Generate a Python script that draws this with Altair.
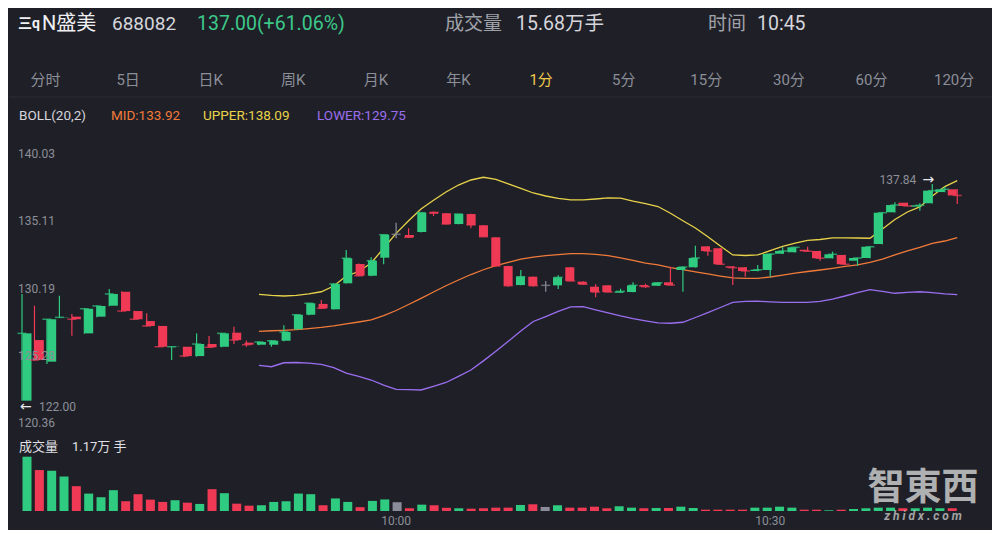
import altair as alt
import pandas as pd
import numpy as np

# ---------------- data ----------------
opens = [122.00, 126.43, 124.85, 128.07, 128.14, 126.92, 128.14, 128.94, 129.96, 128.55,
         127.82, 127.46, 125.92, 125.94, 125.26, 126.14, 125.94, 126.97, 126.24, 126.09,
         126.09, 126.38, 127.22, 128.28, 129.07, 128.68, 130.58, 131.99, 131.13, 132.45,
         134.16, 134.11, 134.33, 135.81, 135.70, 134.91, 135.64, 134.82, 133.94, 131.84,
         130.45, 131.06, 130.43, 130.43, 131.75, 130.70, 130.33, 130.43, 129.89, 129.94,
         130.45, 130.40, 130.65, 131.55, 131.75, 133.28, 133.14, 131.82, 131.75, 131.48,
         131.55, 132.74, 132.85, 133.03, 132.94, 132.41, 132.65, 132.23, 132.43, 133.45,
         135.77, 136.47, 136.18, 136.43, 137.25, 137.45]
highs = [129.80, 128.94, 127.95, 129.67, 128.33, 128.75, 128.95, 130.16, 130.00, 128.58,
         128.39, 127.48, 125.96, 125.94, 126.92, 126.73, 126.95, 127.41, 126.39, 126.35,
         126.42, 127.51, 128.30, 129.15, 129.36, 130.58, 133.01, 132.02, 132.48, 134.15,
         135.01, 134.60, 135.76, 135.83, 135.72, 135.66, 135.66, 134.84, 133.96, 131.86,
         131.55, 131.08, 130.75, 131.16, 131.77, 130.72, 130.51, 130.45, 130.18, 130.65,
         130.55, 130.64, 131.79, 131.80, 133.33, 133.30, 133.16, 131.84, 131.77, 131.91,
         132.74, 133.21, 133.23, 133.25, 132.96, 132.89, 132.67, 132.45, 133.27, 135.76,
         136.50, 136.49, 136.43, 137.84, 137.64, 137.47]
lows = [122.00, 124.90, 124.68, 128.05, 126.75, 126.90, 128.10, 128.90, 128.52, 127.92,
        127.42, 125.92, 124.97, 125.17, 125.22, 125.88, 125.90, 126.14, 125.94, 126.05,
        125.94, 126.35, 127.20, 128.25, 128.70, 128.66, 130.56, 131.10, 131.10, 131.97,
        133.87, 133.90, 134.30, 135.50, 134.88, 134.89, 134.60, 133.96, 131.82, 130.33,
        130.43, 130.35, 129.96, 130.16, 130.73, 130.49, 129.55, 129.92, 129.87, 129.92,
        130.25, 130.38, 130.43, 129.96, 131.73, 132.60, 131.95, 130.45, 131.06, 131.46,
        131.06, 132.72, 132.83, 132.90, 132.23, 132.39, 131.95, 131.86, 132.41, 133.43,
        135.75, 136.21, 135.89, 136.41, 137.23, 136.37]
closes = [126.92, 124.97, 127.95, 128.09, 127.95, 128.72, 128.92, 129.80, 128.55, 127.95,
          127.46, 125.94, 125.94, 125.26, 126.14, 125.90, 126.92, 126.43, 126.09, 126.29,
          126.38, 127.02, 128.28, 129.12, 128.75, 130.53, 132.41, 131.13, 132.23, 134.13,
          134.16, 133.94, 135.74, 135.70, 134.91, 135.64, 134.84, 133.98, 131.84, 130.40,
          131.06, 130.40, 130.43, 131.01, 130.75, 130.51, 129.94, 129.94, 129.99, 130.43,
          130.33, 130.62, 130.45, 131.77, 132.43, 132.94, 131.97, 131.72, 131.48, 131.57,
          132.72, 132.94, 133.21, 132.92, 132.41, 132.70, 131.97, 132.43, 133.25, 135.74,
          136.30, 136.23, 136.28, 137.35, 137.45, 137.00]
volumes = [11700, 8820, 8670, 7430, 5350, 3750, 2970, 4490, 2100, 3620,
           2450, 1950, 2320, 1800, 1520, 4700, 3840, 1580, 1150, 1240,
           1950, 2100, 3750, 3620, 1240, 2710, 1950, 820, 2170, 2490,
           1890, 590, 1370, 1240, 690, 590, 500, 590, 720, 720,
           1300, 1450, 870, 1240, 720, 720, 930, 590, 1020, 720,
           590, 650, 650, 930, 650, 280, 280, 280, 280, 720,
           720, 930, 720, 280, 280, 150, 280, 430, 590, 720,
           720, 590, 590, 720, 590, 590]

boll_start = 19
boll_upper = [129.77, 129.69, 129.65, 129.69, 129.80, 129.96, 130.38, 131.11, 131.44, 132.06,
              133.14, 134.23, 135.15, 136.01, 136.65, 137.25, 137.76, 138.13, 138.33, 138.17,
              137.84, 137.51, 137.18, 136.96, 136.78, 136.67, 136.67, 136.74, 136.83, 136.81,
              136.59, 136.41, 136.19, 135.70, 135.15, 134.62, 133.98, 133.30, 132.65, 132.61,
              132.65, 132.96, 133.27, 133.52, 133.72, 133.78, 133.90, 133.90, 133.89, 133.87,
              134.55, 135.24, 135.79, 136.16, 136.96, 137.65, 138.09]
boll_mid = [127.07, 127.11, 127.14, 127.19, 127.27, 127.35, 127.46, 127.62, 127.75, 127.90,
            128.22, 128.59, 129.03, 129.48, 129.94, 130.40, 130.82, 131.22, 131.57, 131.87,
            132.11, 132.34, 132.49, 132.60, 132.68, 132.75, 132.75, 132.69, 132.60, 132.43,
            132.26, 132.06, 131.92, 131.73, 131.58, 131.41, 131.26, 131.11, 130.97, 130.94,
            130.94, 131.04, 131.18, 131.32, 131.44, 131.55, 131.67, 131.81, 131.93, 132.10,
            132.35, 132.66, 132.94, 133.20, 133.49, 133.67, 133.92]
boll_lower = [124.58, 124.48, 124.77, 124.79, 124.74, 124.66, 124.42, 124.01, 123.77, 123.51,
              123.14, 122.82, 122.80, 122.78, 123.05, 123.33, 123.78, 124.24, 124.91, 125.61,
              126.34, 127.09, 127.79, 128.15, 128.52, 128.86, 128.87, 128.63, 128.41, 128.19,
              128.00, 127.84, 127.69, 127.66, 127.73, 128.08, 128.44, 128.81, 129.19, 129.26,
              129.27, 129.22, 129.19, 129.19, 129.19, 129.25, 129.43, 129.65, 129.89, 130.12,
              129.99, 129.85, 129.91, 129.96, 129.89, 129.80, 129.75]

price_ticks = [140.03, 135.11, 130.19, 125.28, 120.36]
time_tick_idx = [30, 60]
time_tick_labels = ["10:00", "10:30"]
tabs = ["分时", "5日", "日K", "周K", "月K", "年K", "1分", "5分", "15分", "30分", "60分", "120分"]
low_mark = [122.00]
high_mark = [137.84]
high_mark_idx = [73]

# ---------------- styling ----------------
BG = "#1f2027"
GREEN = "#2ecb80"
RED = "#f03a55"
GRAY = "#8a8d99"
TXT_GRAY = "#8c8e98"
TXT_LIGHT = "#d6d6dc"
YELLOW = "#e8d24a"
ORANGE = "#f07a3a"
PURPLE = "#9b6ef0"
TAB_YELLOW = "#f2c94c"
FONT = "Roboto, 'Noto Sans CJK SC', sans-serif"

n = len(opens)
df = pd.DataFrame({"i": list(range(n)), "open": opens, "high": highs, "low": lows,
                   "close": closes, "vol": volumes})
df["dir"] = np.where(df["close"] > df["open"], "up",
                     np.where(df["close"] < df["open"], "down", "flat"))

boll = pd.DataFrame({"i": list(range(boll_start, boll_start + len(boll_mid))),
                     "upper": boll_upper, "mid": boll_mid, "lower": boll_lower})

X = alt.Scale(domain=[0, 75], range=[13, 948.25], nice=False, zero=False)
PY = alt.Scale(domain=[120.36, 140.03], range=[415.1, 146], nice=False, zero=False)
VY = alt.Scale(domain=[0, 11700], range=[503, 448.7], nice=False)
COL = alt.Scale(domain=["up", "down", "flat"], range=[GREEN, RED, GRAY])

xi = alt.X("i:Q", scale=X, axis=None)
color = alt.Color("dir:N", scale=COL, legend=None)

base = alt.Chart(df)
wicks = base.mark_rule(strokeWidth=1.2).encode(
    x=xi, y=alt.Y("low:Q", scale=PY, axis=None), y2="high:Q", color=color)
bodies = base.mark_bar(size=9).encode(
    x=xi, y=alt.Y("open:Q", scale=PY, axis=None), y2="close:Q", color=color)
closes_tick = base.mark_tick(orient="horizontal", size=9, thickness=1.5).encode(
    x=xi, y=alt.Y("close:Q", scale=PY, axis=None), color=color)
vol_bars = base.mark_bar(size=9).encode(
    x=xi, y=alt.Y("vol:Q", scale=VY, axis=None), color=color)

bchart = alt.Chart(boll)
upper_line = bchart.mark_line(color=YELLOW, strokeWidth=1.3).encode(
    x=xi, y=alt.Y("upper:Q", scale=PY, axis=None))
mid_line = bchart.mark_line(color=ORANGE, strokeWidth=1.3).encode(
    x=xi, y=alt.Y("mid:Q", scale=PY, axis=None))
lower_line = bchart.mark_line(color=PURPLE, strokeWidth=1.3).encode(
    x=xi, y=alt.Y("lower:Q", scale=PY, axis=None))

price_labels = alt.Chart(pd.DataFrame({"p": price_ticks})).mark_text(
    align="left", baseline="middle", fontSize=12, color=TXT_GRAY, font=FONT
).encode(x=alt.value(9), y=alt.Y("p:Q", scale=PY, axis=None), text=alt.Text("p:Q", format=".2f"))

low_df = pd.DataFrame({"p": low_mark})
low_arrow = alt.Chart(low_df).mark_text(
    align="left", baseline="middle", fontSize=14, color="#e8e8ee", font="DejaVu Sans", dy=6
).encode(x=alt.value(11), y=alt.Y("p:Q", scale=PY, axis=None), text=alt.value("←"))
low_text = alt.Chart(low_df).mark_text(
    align="left", baseline="middle", fontSize=12, color=TXT_GRAY, font=FONT, dy=6
).encode(x=alt.value(30), y=alt.Y("p:Q", scale=PY, axis=None), text=alt.Text("p:Q", format=".2f"))

hi_df = pd.DataFrame({"p": high_mark, "i": high_mark_idx})
hi_arrow = alt.Chart(hi_df).mark_text(
    align="right", baseline="middle", fontSize=14, color="#e8e8ee", font="DejaVu Sans", dy=-4, dx=2
).encode(x=xi, y=alt.Y("p:Q", scale=PY, axis=None), text=alt.value("→"))
hi_text = alt.Chart(hi_df).mark_text(
    align="right", baseline="middle", fontSize=12, color=TXT_GRAY, font=FONT, dy=-4, dx=-16
).encode(x=xi, y=alt.Y("p:Q", scale=PY, axis=None), text=alt.Text("p:Q", format=".2f"))

time_labels = alt.Chart(pd.DataFrame({"i": time_tick_idx, "t": time_tick_labels})).mark_text(
    align="center", baseline="middle", fontSize=12, color=TXT_GRAY, font=FONT
).encode(x=xi, y=alt.value(513), text="t:N")

tab_df = pd.DataFrame({"k": list(range(len(tabs))), "tab": tabs})
tab_text = alt.Chart(tab_df).mark_text(
    align="center", baseline="middle", fontSize=15, font=FONT
).encode(
    x=alt.X("k:Q", scale=alt.Scale(domain=[0, 11], range=[36.5, 945.1], nice=False, zero=False), axis=None),
    y=alt.value(72), text="tab:N",
    color=alt.condition(alt.datum.tab == "1分", alt.value(TAB_YELLOW), alt.value(TXT_GRAY)))


def label(text, x, y, color, size, align="left", weight="normal", font=FONT,
          opacity=1.0, style="normal"):
    return alt.Chart(pd.DataFrame({"t": [text]})).mark_text(
        align=align, baseline="middle", fontSize=size, color=color, font=font,
        fontWeight=weight, opacity=opacity, fontStyle=style
    ).encode(text="t:N", x=alt.value(x), y=alt.value(y))


sep = alt.Chart(pd.DataFrame({"a": [0]})).mark_rule(color="#2b2c34", strokeWidth=1).encode(
    x=alt.value(0), x2=alt.value(984), y=alt.value(89))

texts = [
    label("三q", 9, 16, "#f0f0f4", 14, weight="bold"),
    label("N盛美", 33, 16, "#f0f0f4", 20),
    label("688082", 103, 16, TXT_LIGHT, 19),
    label("137.00(+61.06%)", 188, 16, "#3cc98a", 19.5),
    label("成交量", 436, 16, "#a0a2aa", 19),
    label("15.68万手", 507, 16, TXT_LIGHT, 19.5),
    label("时间", 699, 16, "#a0a2aa", 19),
    label("10:45", 748, 16, TXT_LIGHT, 19.5),
    label("BOLL(20,2)", 10, 108, TXT_LIGHT, 13.5),
    label("MID:133.92", 102, 108, ORANGE, 13.5),
    label("UPPER:138.09", 194, 108, YELLOW, 13.5),
    label("LOWER:129.75", 308, 108, PURPLE, 13.5),
    label("成交量", 10, 439, "#e0e0e6", 13),
    label("1.17万 手", 63, 439, "#e0e0e6", 13),
    label("智東西", 914, 481, "#d4d4d4", 37, align="center", weight="bold", opacity=0.8),
    label("z h i d x . c o m", 914, 508, "#c4c4c4", 12, align="center", weight="bold",
          opacity=0.8, style="italic"),
]

chart = alt.layer(
    sep, upper_line, mid_line, lower_line, wicks, bodies, closes_tick, vol_bars,
    price_labels, low_arrow, low_text, hi_arrow, hi_text, time_labels, tab_text, *texts
).resolve_scale(
    x="independent", y="independent"
).properties(
    width=984, height=522, padding=0, background=BG,
    autosize=alt.AutoSizeParams(type="fit", contains="padding")
).configure_view(strokeWidth=0)

chart.save("out.html", embed_options={"renderer": "svg", "actions": False})
